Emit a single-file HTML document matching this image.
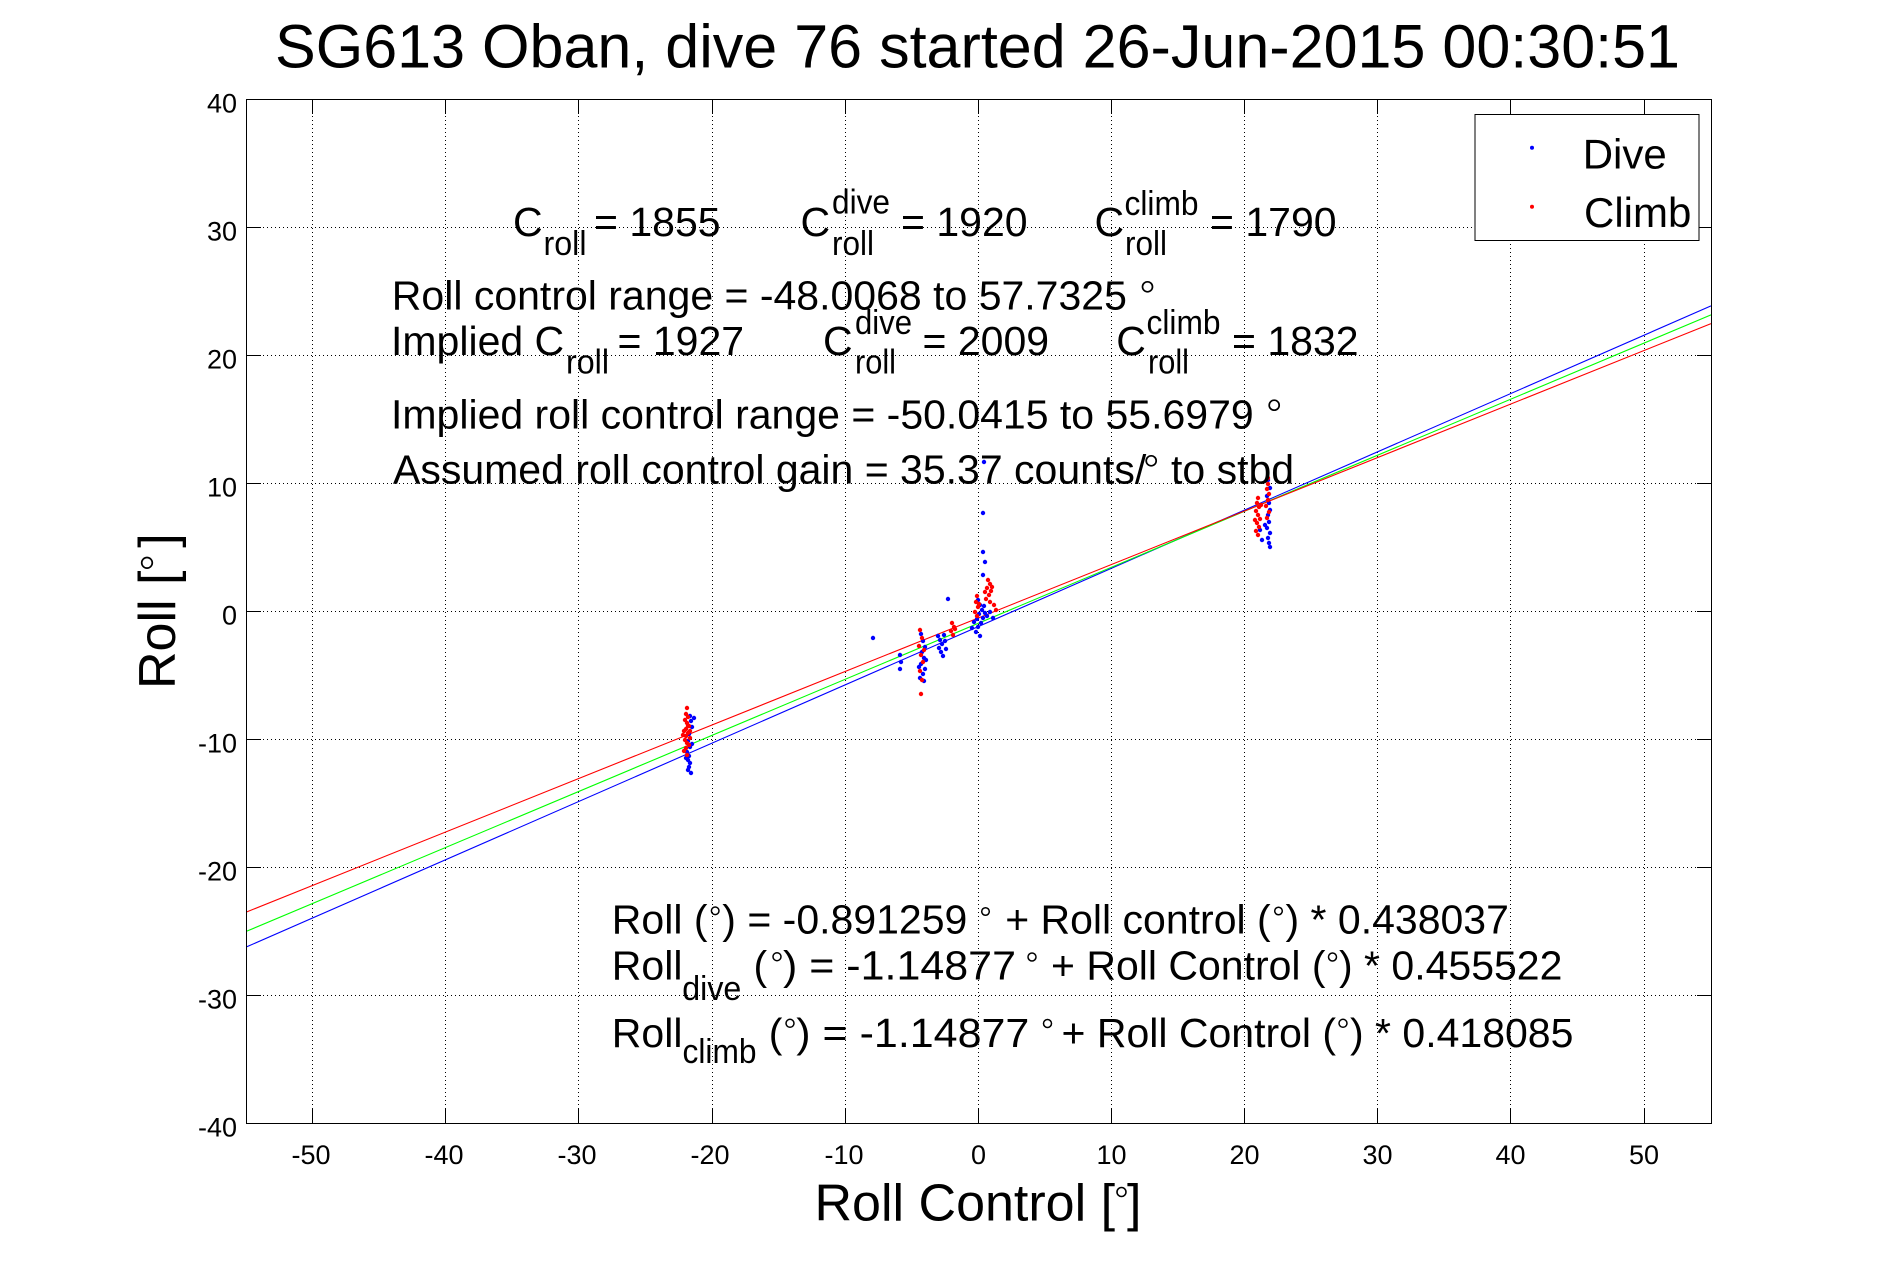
<!DOCTYPE html>
<html><head><meta charset="utf-8"><style>
html,body{margin:0;padding:0;background:#fff;}
svg{display:block;}
text{font-family:"Liberation Sans",Arial,sans-serif;fill:#000;}
</style></head><body>
<svg width="1891" height="1262" viewBox="0 0 1891 1262" xmlns="http://www.w3.org/2000/svg">
<rect x="0" y="0" width="1891" height="1262" fill="#fff"/>

<!-- grid -->
<g stroke="#000" stroke-width="1" stroke-dasharray="1 3" shape-rendering="crispEdges" fill="none">
<line x1="312.5" y1="100" x2="312.5" y2="1123"/>
<line x1="445.5" y1="100" x2="445.5" y2="1123"/>
<line x1="578.5" y1="100" x2="578.5" y2="1123"/>
<line x1="712.5" y1="100" x2="712.5" y2="1123"/>
<line x1="845.5" y1="100" x2="845.5" y2="1123"/>
<line x1="978.5" y1="100" x2="978.5" y2="1123"/>
<line x1="1111.5" y1="100" x2="1111.5" y2="1123"/>
<line x1="1244.5" y1="100" x2="1244.5" y2="1123"/>
<line x1="1377.5" y1="100" x2="1377.5" y2="1123"/>
<line x1="1510.5" y1="100" x2="1510.5" y2="1123"/>
<line x1="1644.5" y1="100" x2="1644.5" y2="1123"/>
<line x1="247" y1="227.5" x2="1711" y2="227.5"/>
<line x1="247" y1="355.5" x2="1711" y2="355.5"/>
<line x1="247" y1="483.5" x2="1711" y2="483.5"/>
<line x1="247" y1="611.5" x2="1711" y2="611.5"/>
<line x1="247" y1="739.5" x2="1711" y2="739.5"/>
<line x1="247" y1="867.5" x2="1711" y2="867.5"/>
<line x1="247" y1="995.5" x2="1711" y2="995.5"/>
</g>

<!-- fit lines -->
<g fill="none" stroke-width="1.1">
<line x1="246.5" y1="946.9" x2="1711" y2="305.9" stroke="#0000ff"/>
<line x1="246.5" y1="931.3" x2="1711" y2="314.9" stroke="#00ff00"/>
<line x1="246.5" y1="912.0" x2="1711" y2="323.6" stroke="#ff0000"/>
</g>

<!-- dive points (blue) -->
<g fill="#0000ff">
<circle cx="690" cy="716" r="2.2"/><circle cx="691" cy="721" r="2.2"/><circle cx="692" cy="727" r="2.2"/><circle cx="689" cy="734" r="2.2"/><circle cx="688" cy="741" r="2.2"/><circle cx="690" cy="747" r="2.2"/><circle cx="687" cy="752" r="2.2"/><circle cx="689" cy="756" r="2.2"/><circle cx="688" cy="760" r="2.2"/><circle cx="690" cy="763" r="2.2"/><circle cx="689" cy="767" r="2.2"/><circle cx="688" cy="770" r="2.2"/><circle cx="691" cy="773" r="2.2"/><circle cx="686" cy="758" r="2.2"/><circle cx="692" cy="744" r="2.2"/><circle cx="694" cy="718" r="2.2"/>
<circle cx="1268" cy="480" r="2.2"/><circle cx="1270" cy="488" r="2.2"/><circle cx="1267" cy="496" r="2.2"/><circle cx="1269" cy="503" r="2.2"/><circle cx="1270" cy="510" r="2.2"/><circle cx="1268" cy="515" r="2.2"/><circle cx="1269" cy="522" r="2.2"/><circle cx="1267" cy="528" r="2.2"/><circle cx="1270" cy="533" r="2.2"/><circle cx="1268" cy="538" r="2.2"/><circle cx="1269" cy="543" r="2.2"/><circle cx="1270" cy="547" r="2.2"/><circle cx="1260" cy="530" r="2.2"/><circle cx="1262" cy="540" r="2.2"/><circle cx="1265" cy="525" r="2.2"/>
<circle cx="978" cy="600" r="2.2"/><circle cx="980" cy="605" r="2.2"/><circle cx="982" cy="610" r="2.2"/><circle cx="979" cy="614" r="2.2"/><circle cx="977" cy="619" r="2.2"/><circle cx="981" cy="623" r="2.2"/><circle cx="978" cy="627" r="2.2"/><circle cx="976" cy="632" r="2.2"/><circle cx="980" cy="636" r="2.2"/><circle cx="983" cy="618" r="2.2"/><circle cx="985" cy="613" r="2.2"/><circle cx="987" cy="616" r="2.2"/><circle cx="974" cy="622" r="2.2"/><circle cx="972" cy="628" r="2.2"/><circle cx="990" cy="612" r="2.2"/><circle cx="993" cy="618" r="2.2"/><circle cx="984" cy="606" r="2.2"/><circle cx="984" cy="462" r="2.2"/><circle cx="983" cy="513" r="2.2"/><circle cx="983" cy="552" r="2.2"/><circle cx="985" cy="562" r="2.2"/><circle cx="983" cy="575" r="2.2"/>
<circle cx="921" cy="634" r="2.2"/><circle cx="923" cy="641" r="2.2"/><circle cx="925" cy="647" r="2.2"/><circle cx="922" cy="652" r="2.2"/><circle cx="924" cy="658" r="2.2"/><circle cx="921" cy="664" r="2.2"/><circle cx="925" cy="669" r="2.2"/><circle cx="923" cy="674" r="2.2"/><circle cx="920" cy="678" r="2.2"/><circle cx="924" cy="681" r="2.2"/><circle cx="926" cy="660" r="2.2"/><circle cx="919" cy="667" r="2.2"/>
<circle cx="938" cy="636" r="2.2"/><circle cx="940" cy="640" r="2.2"/><circle cx="942" cy="644" r="2.2"/><circle cx="939" cy="648" r="2.2"/><circle cx="941" cy="652" r="2.2"/><circle cx="943" cy="656" r="2.2"/><circle cx="945" cy="641" r="2.2"/><circle cx="944" cy="635" r="2.2"/><circle cx="946" cy="649" r="2.2"/>
<circle cx="900" cy="655" r="2.2"/><circle cx="901" cy="662" r="2.2"/><circle cx="900" cy="669" r="2.2"/><circle cx="873" cy="638" r="2.2"/><circle cx="948" cy="599" r="2.2"/>
</g>

<!-- climb points (red) -->
<g fill="#ff0000">
<circle cx="687" cy="708" r="2.2"/><circle cx="686" cy="714" r="2.2"/><circle cx="688" cy="717" r="2.2"/><circle cx="685" cy="720" r="2.2"/><circle cx="687" cy="723" r="2.2"/><circle cx="689" cy="726" r="2.2"/><circle cx="686" cy="729" r="2.2"/><circle cx="684" cy="731" r="2.2"/><circle cx="688" cy="733" r="2.2"/><circle cx="686" cy="736" r="2.2"/><circle cx="690" cy="738" r="2.2"/><circle cx="685" cy="740" r="2.2"/><circle cx="687" cy="743" r="2.2"/><circle cx="689" cy="745" r="2.2"/><circle cx="686" cy="748" r="2.2"/><circle cx="684" cy="751" r="2.2"/><circle cx="688" cy="726" r="2.2"/><circle cx="690" cy="731" r="2.2"/><circle cx="683" cy="735" r="2.2"/><circle cx="687" cy="755" r="2.2"/>
<circle cx="1258" cy="498" r="2.2"/><circle cx="1257" cy="503" r="2.2"/><circle cx="1259" cy="507" r="2.2"/><circle cx="1256" cy="511" r="2.2"/><circle cx="1258" cy="515" r="2.2"/><circle cx="1260" cy="519" r="2.2"/><circle cx="1257" cy="523" r="2.2"/><circle cx="1259" cy="527" r="2.2"/><circle cx="1256" cy="531" r="2.2"/><circle cx="1258" cy="535" r="2.2"/><circle cx="1261" cy="505" r="2.2"/><circle cx="1255" cy="520" r="2.2"/><circle cx="1268" cy="478" r="2.2"/><circle cx="1268" cy="484" r="2.2"/><circle cx="1267" cy="489" r="2.2"/><circle cx="1269" cy="494" r="2.2"/><circle cx="1268" cy="500" r="2.2"/><circle cx="1266" cy="506" r="2.2"/><circle cx="1269" cy="512" r="2.2"/><circle cx="1267" cy="518" r="2.2"/>
<circle cx="988" cy="580" r="2.2"/><circle cx="990" cy="584" r="2.2"/><circle cx="987" cy="588" r="2.2"/><circle cx="991" cy="591" r="2.2"/><circle cx="989" cy="595" r="2.2"/><circle cx="986" cy="599" r="2.2"/><circle cx="990" cy="602" r="2.2"/><circle cx="992" cy="587" r="2.2"/><circle cx="985" cy="592" r="2.2"/><circle cx="977" cy="596" r="2.2"/><circle cx="976" cy="602" r="2.2"/><circle cx="978" cy="607" r="2.2"/><circle cx="975" cy="612" r="2.2"/><circle cx="977" cy="616" r="2.2"/><circle cx="979" cy="604" r="2.2"/><circle cx="994" cy="605" r="2.2"/><circle cx="996" cy="610" r="2.2"/>
<circle cx="920" cy="630" r="2.2"/><circle cx="922" cy="638" r="2.2"/><circle cx="919" cy="646" r="2.2"/><circle cx="921" cy="655" r="2.2"/><circle cx="923" cy="662" r="2.2"/><circle cx="920" cy="671" r="2.2"/><circle cx="922" cy="680" r="2.2"/><circle cx="921" cy="694" r="2.2"/><circle cx="924" cy="650" r="2.2"/>
<circle cx="952" cy="623" r="2.2"/><circle cx="954" cy="627" r="2.2"/><circle cx="951" cy="631" r="2.2"/><circle cx="953" cy="635" r="2.2"/><circle cx="955" cy="629" r="2.2"/>
</g>

<!-- axes box and ticks -->
<g stroke="#000" stroke-width="1" fill="none" shape-rendering="crispEdges">
<rect x="246.5" y="99.5" width="1465" height="1024"/>
<path d="M312.5 1123v-14M445.5 1123v-14M578.5 1123v-14M712.5 1123v-14M845.5 1123v-14M978.5 1123v-14M1111.5 1123v-14M1244.5 1123v-14M1377.5 1123v-14M1510.5 1123v-14M1644.5 1123v-14"/>
<path d="M312.5 100v14M445.5 100v14M578.5 100v14M712.5 100v14M845.5 100v14M978.5 100v14M1111.5 100v14M1244.5 100v14M1377.5 100v14M1510.5 100v14M1644.5 100v14"/>
<path d="M247 227.5h14M247 355.5h14M247 483.5h14M247 611.5h14M247 739.5h14M247 867.5h14M247 995.5h14"/>
<path d="M1711 227.5h-14M1711 355.5h-14M1711 483.5h-14M1711 611.5h-14M1711 739.5h-14M1711 867.5h-14M1711 995.5h-14"/>
</g>

<!-- tick labels -->
<g font-size="27" text-anchor="end">
<text x="237" y="112.5">40</text>
<text x="237" y="240.5">30</text>
<text x="237" y="368.5">20</text>
<text x="237" y="496.5">10</text>
<text x="237" y="624.5">0</text>
<text x="237" y="752.5">-10</text>
<text x="237" y="880.5">-20</text>
<text x="237" y="1008.5">-30</text>
<text x="237" y="1136.5">-40</text>
</g>
<g font-size="27" text-anchor="middle">
<text x="311" y="1164">-50</text>
<text x="444" y="1164">-40</text>
<text x="577" y="1164">-30</text>
<text x="710" y="1164">-20</text>
<text x="844" y="1164">-10</text>
<text x="978.5" y="1164">0</text>
<text x="1111.5" y="1164">10</text>
<text x="1244.5" y="1164">20</text>
<text x="1377.5" y="1164">30</text>
<text x="1510.5" y="1164">40</text>
<text x="1644" y="1164">50</text>
</g>

<!-- title -->
<text x="275" y="67.7" font-size="61" textLength="1405" lengthAdjust="spacingAndGlyphs">SG613 Oban, dive 76 started 26-Jun-2015 00:30:51</text>

<!-- axis labels -->
<text x="814.5" y="1220.7" font-size="52">Roll Control [</text>
<circle cx="1121.5" cy="1192" r="4.5" fill="none" stroke="#000" stroke-width="1.6"/>
<text x="1127" y="1220.7" font-size="52">]</text>
<g transform="translate(175,689) rotate(-90)">
<text x="0" y="0" font-size="52">Roll [</text>
<text x="141.3" y="0" font-size="52">]</text>
</g>
<circle cx="147" cy="562.8" r="5.3" fill="none" stroke="#000" stroke-width="1.7"/>

<!-- top annotation block -->
<g font-size="41">
<text x="513" y="236">C</text>
<text x="594" y="236">= 1855</text>
<text x="800.5" y="236">C</text>
<text x="901" y="236">= 1920</text>
<text x="1094.5" y="236">C</text>
<text x="1210" y="236">= 1790</text>

<text x="391.8" y="309.3">Roll control range = -48.0068 to 57.7325</text>

<text x="391" y="355">Implied C</text>
<text x="617.5" y="355">= 1927</text>
<text x="823" y="355">C</text>
<text x="922.5" y="355">= 2009</text>
<text x="1116.3" y="355">C</text>
<text x="1232" y="355">= 1832</text>

<text x="391" y="428.3">Implied roll control range = -50.0415 to 55.6979</text>
<text x="393" y="483.3">Assumed roll control gain = 35.37 counts/</text>
<text x="1171" y="483.3">to stbd</text>
</g>
<g font-size="34">
<text x="543.5" y="255" textLength="43" lengthAdjust="spacingAndGlyphs">roll</text>
<text x="832" y="213.3" textLength="58" lengthAdjust="spacingAndGlyphs">dive</text>
<text x="832" y="255" textLength="42" lengthAdjust="spacingAndGlyphs">roll</text>
<text x="1124.5" y="215" textLength="74" lengthAdjust="spacingAndGlyphs">climb</text>
<text x="1125" y="255" textLength="42" lengthAdjust="spacingAndGlyphs">roll</text>

<text x="566" y="373.3" textLength="43" lengthAdjust="spacingAndGlyphs">roll</text>
<text x="855" y="334" textLength="57" lengthAdjust="spacingAndGlyphs">dive</text>
<text x="855" y="373.3" textLength="41" lengthAdjust="spacingAndGlyphs">roll</text>
<text x="1146.5" y="334" textLength="74" lengthAdjust="spacingAndGlyphs">climb</text>
<text x="1148" y="373.3" textLength="41" lengthAdjust="spacingAndGlyphs">roll</text>
</g>
<g fill="none" stroke="#000" stroke-width="1.7">
<circle cx="1147.5" cy="286.8" r="5"/>
<circle cx="1274.2" cy="405.2" r="5"/>
<circle cx="1151.2" cy="460.8" r="5"/>
</g>

<!-- bottom annotation block -->
<g font-size="41">
<text x="611.8" y="933.3">Roll (</text>
<text x="722.3" y="933.3">) = -0.891259</text>
<text x="1005.2" y="933.3">+ Roll control (</text>
<text x="1285.5" y="933.3">) * 0.438037</text>

<text x="611.8" y="979.3">Roll</text>
<text x="753.5" y="979.3">(</text>
<text x="783" y="979.3" textLength="233" lengthAdjust="spacingAndGlyphs">) = -1.14877</text>
<text x="1051" y="979.3">+ Roll Control (</text>
<text x="1339" y="979.3">) * 0.455522</text>

<text x="611.8" y="1047">Roll</text>
<text x="768.8" y="1047">(</text>
<text x="796.3" y="1047" textLength="233" lengthAdjust="spacingAndGlyphs">) = -1.14877</text>
<text x="1061.5" y="1047">+ Roll Control (</text>
<text x="1350" y="1047">) * 0.418085</text>
</g>
<g font-size="34">
<text x="682.3" y="1000" textLength="59" lengthAdjust="spacingAndGlyphs">dive</text>
<text x="682.5" y="1063" textLength="74" lengthAdjust="spacingAndGlyphs">climb</text>
</g>
<g fill="none" stroke="#000" stroke-width="1.5">
<circle cx="715.2" cy="910.8" r="3.8"/>
<circle cx="985.5" cy="911.5" r="3.8"/>
<circle cx="1278.5" cy="911" r="3.8"/>
<circle cx="777" cy="956.7" r="4"/>
<circle cx="1032" cy="957" r="4"/>
<circle cx="1332.5" cy="957" r="4"/>
<circle cx="790" cy="1023.3" r="4"/>
<circle cx="1047.5" cy="1023.5" r="4"/>
<circle cx="1343" cy="1023.3" r="4"/>
</g>

<!-- legend -->
<rect x="1475" y="114.5" width="224" height="126" fill="#fff" stroke="#000" stroke-width="1" shape-rendering="crispEdges"/>
<circle cx="1532" cy="147.7" r="2" fill="#0000ff"/>
<circle cx="1532" cy="206.7" r="2" fill="#ff0000"/>
<text x="1582.7" y="168.3" font-size="42">Dive</text>
<text x="1584" y="227" font-size="42">Climb</text>
</svg>
</body></html>
